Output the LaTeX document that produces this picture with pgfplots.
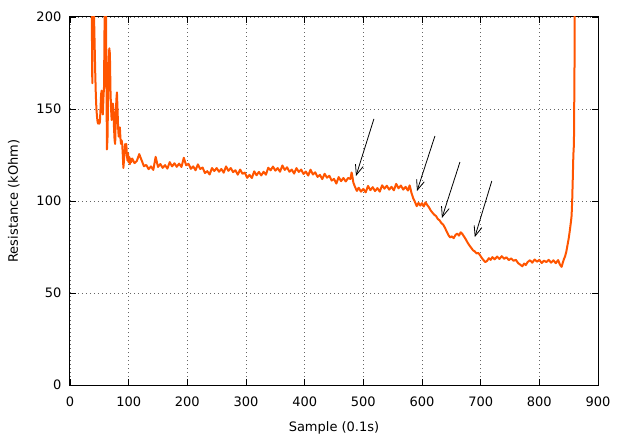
\documentclass[border=0pt]{standalone}
\usepackage{fontspec}
\setmainfont{DejaVu Sans}
\usepackage{pgfplots}
\pgfplotsset{compat=1.18}
\usetikzlibrary{arrows.meta}
\definecolor{lineorange}{RGB}{255,85,0}
\begin{document}
\begin{tikzpicture}
\begin{axis}[
  name=ax,
  at={(0,0)}, anchor=south west,
  scale only axis,
  width=528pt, height=368pt,
  xmin=0, xmax=900, ymin=0, ymax=200,
  xtick={0,100,...,900}, ytick={0,50,...,200},
  /pgf/number format/assume math mode=true,
  tick label style={font=\fontsize{13}{15}\selectfont},
  label style={font=\fontsize{13}{15}\selectfont},
  yticklabel style={anchor=east, inner sep=0pt, xshift=-8.5pt},
  xticklabel style={anchor=north, inner sep=0pt, yshift=-12pt},
  xlabel={Sample (0.1s)},
  ylabel={Resistance (kOhm)},
  xlabel style={at={(axis description cs:0.5,-0.1264)}, anchor=base},
  ylabel style={at={(axis description cs:-0.0985,0.5)}, anchor=base},
  tick align=inside,
  major tick length=6pt,
  every tick/.style={black, line width=0.9pt},
  axis line style={line width=1pt, black},
  grid=major,
  major grid style={gray!80!black, line width=0.6pt, dash pattern=on 0.8pt off 3.2pt},
  clip=true,
]
\addplot[lineorange, line width=2pt, line join=round] coordinates {
(35,250) (37,210) (38,164) (39,240) (40,230) (41,200) (42,185) (43,170) (44,158) (45,150) (46,146) (47,143) (48,142) (49,144) (50,142) (51,143) (52,150) (53,158) (54,160) (55,152) (56,147) (57,156) (58,162) (59,200) (60,240) (61,230) (62,170) (63,128) (64,135) (65,160) (66,175) (67,183) (68,180) (69,160) (70,150) (71,144) (72,148) (73,153) (74,150) (75,140) (76,133) (77,131) (78,145) (79,155) (80,159) (81,150) (82,140) (83,135) (84,137) (85,140) (86,134) (87,131) (88,133) (89,131) (90,125) (91,118) (92,122) (93,126) (94,131) (95,128) (96,131) (97,125) (98,122) (99,126) (100,121) (101,124) (102,120) (103,123) (104,121)
(106,123.1) (110,120.6) (114,121.8) (118,125.5) (122,122.2) (126,118.9) (130,119.6) (134,117.3) (138,118.8) (142,116.9) (146,124.0) (150,118.5) (154,120.1) (158,118.0) (162,119.5) (166,117.6) (170,121.1) (174,118.8) (178,120.5) (182,118.6) (186,120.3) (190,118.5) (194,123.5) (198,119.4) (202,120.2) (206,117.5) (210,118.8) (214,116.7) (218,119.9) (222,117.4) (226,118.2) (230,115.2) (234,116.2) (238,114.4) (242,117.9) (246,116.3) (250,117.9) (254,115.9) (258,117.4) (262,115.4) (266,118.8) (270,116.4) (274,117.9) (278,115.7) (282,116.7) (286,114.3) (290,117.1) (294,114.8) (298,115.4) (302,112.6) (306,114.2) (310,112.5) (314,116.1) (318,114.0) (322,115.8) (326,113.9) (330,115.9) (334,114.3) (338,118.1) (342,116.7) (346,118.7) (350,116.5) (354,117.9) (358,115.9) (362,119.3) (366,116.9) (370,118.3) (374,115.9) (378,117.1) (382,114.9) (386,117.9) (390,115.8) (394,117.1) (398,114.7) (402,116.0) (406,113.8) (410,117.0) (414,114.4) (418,115.6) (422,113.1) (426,114.2) (430,111.9) (434,114.8) (438,112.7) (442,113.7) (446,111.1) (450,112.0) (454,109.5) (458,113.0) (462,110.8) (466,112.5) (470,110.6) (474,112.5) (478,112.0) (480,115.5) (481,114) (483,110) (486,107.5) (489,105.5)
(492,107.2) (496,105.1) (500,106.6) (504,104.7) (508,108.2) (512,105.9) (516,107.5) (520,105.4) (524,107.0) (528,105.1) (532,108.5) (536,106.7) (540,108.3) (544,106.2) (548,107.7) (552,105.8) (556,109.3) (560,106.9) (564,108.4) (568,106.2) (572,107.7) (576,105.7) (579,108.5) (582,104.5) (585,101.5) (588,99.5)
(591,97.2) (594,99.0) (597,97.5) (600,98.8) (603,97.0) (606,99.3) (609,97.8) (612,96.5) (615,94.8) (618,93.6) (621,92.5) (624,91.8) (627,90.2) (630,89.5) (633,88.0) (636,87.2) (639,85.5) (642,83.5) (645,81.5) (648,80.2) (651,80.8) (654,79.8) (657,81.5) (660,82.3) (663,81.2) (666,83.0) (669,82.0) (672,80.5) (675,79.0) (678,77.2) (681,75.8) (684,74.5) (687,73.2) (690,72.6) (693,71.5) (696,71.8) (699,70.5) (702,69.0) (705,67.8) (708,66.8) (711,67.5) (714,68.9) (717,68.0) (720,69.5) (724,68.3) (728,69.8) (732,68.5) (736,70.0) (740,68.6) (744,69.4) (748,67.9) (752,68.8) (756,67.5) (760,68.0) (764,66.2) (768,65.3) (771,64.5) (774,66.0) (777,65.2) (780,66.8) (784,67.8) (788,66.5) (792,68.2) (796,67.0) (800,68.0) (804,66.3) (808,67.6) (812,66.8) (816,68.0) (820,66.5) (824,67.8) (828,66.2) (832,67.9) (835,65.5) (838,64.2) (840,66.5) (842,68.5) (844,70.0) (846,72.5) (848,76.0) (850,79.5) (852,84.0) (854,89.0) (855,92.0) (856,100.0) (857,112.0) (858,125.0) (859,131.0) (860,175.0) (861,260.0)
};
\draw[-{Straight Barb[length=10pt,width=8pt]}, line width=0.8pt] (axis cs:518,144.6) -- (axis cs:487.5,113.6);
\draw[-{Straight Barb[length=10pt,width=8pt]}, line width=0.8pt] (axis cs:622,135.3) -- (axis cs:591.5,105.4);
\draw[-{Straight Barb[length=10pt,width=8pt]}, line width=0.8pt] (axis cs:664.7,121.2) -- (axis cs:634,90.8);
\draw[-{Straight Barb[length=10pt,width=8pt]}, line width=0.8pt] (axis cs:719,110.9) -- (axis cs:690,80.4);
\end{axis}
\pgfresetboundingbox
\path ([shift={(-70pt,-54pt)}]ax.south west) rectangle ([shift={(24pt,17pt)}]ax.north east);
\end{tikzpicture}
\end{document}
